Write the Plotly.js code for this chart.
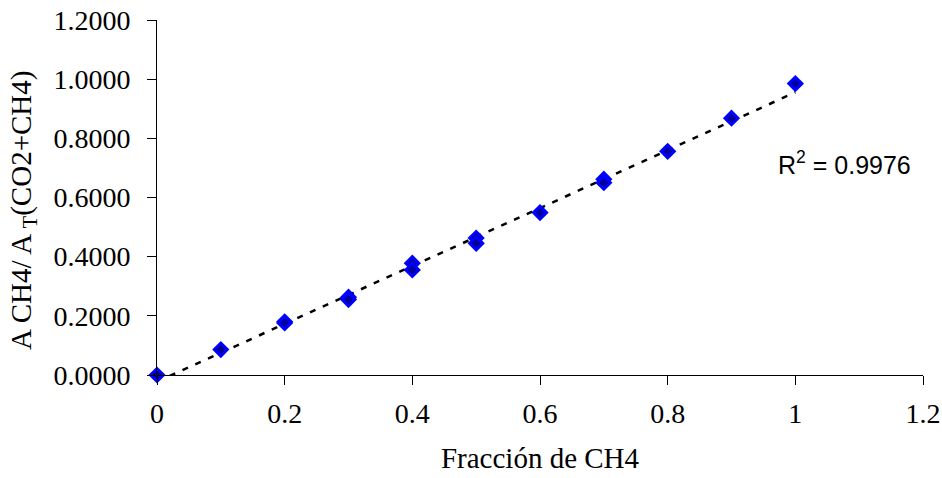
<!DOCTYPE html>
<html>
<head>
<meta charset="utf-8">
<script src="https://cdn.plot.ly/plotly-3.0.1.min.js"></script>
<style>html,body{margin:0;padding:0;background:#fff;}#chart{width:942px;height:478px;}</style>
</head>
<body>
<div id="chart"></div>
<script>
// Data
const fraccionCH4 = [0, 0.1, 0.2, 0.2, 0.3, 0.3, 0.4, 0.4, 0.5, 0.5, 0.6, 0.7, 0.7, 0.8, 0.9, 1.0];
const areaRatio   = [0, 0.086, 0.180, 0.176, 0.263, 0.255, 0.378, 0.355, 0.463, 0.445, 0.549, 0.662, 0.650, 0.756, 0.868, 0.985];
const r2Label = "R<sup>2</sup> = 0.9976";
const xTitle = "Fracción de CH4";
const yTitle = "A CH4/ A <sub>T</sub>(CO2+CH4)";

// Linear trendline computed from the data (least squares)
const n = fraccionCH4.length;
const mx = fraccionCH4.reduce((a, b) => a + b, 0) / n;
const my = areaRatio.reduce((a, b) => a + b, 0) / n;
let sxy = 0, sxx = 0;
for (let i = 0; i < n; i++) { sxy += (fraccionCH4[i] - mx) * (areaRatio[i] - my); sxx += (fraccionCH4[i] - mx) ** 2; }
const slope = sxy / sxx, intercept = my - slope * mx;
const xMin = Math.min(...fraccionCH4), xMax = Math.max(...fraccionCH4);
const trendX = [xMin, xMax];
const trendY = trendX.map(x => intercept + slope * x);

const serif = "'Liberation Serif', 'Times New Roman', serif";

const traces = [
  {
    x: trendX, y: trendY, type: 'scatter', mode: 'lines',
    line: {color: '#000000', width: 2.5, dash: '6px,8px'},
    hoverinfo: 'skip', showlegend: false
  },
  {
    x: fraccionCH4, y: areaRatio, type: 'scatter', mode: 'markers',
    marker: {symbol: 'diamond', size: 10, color: '#000099', line: {color: '#0000ff', width: 3}},
    showlegend: false, cliponaxis: false
  }
];

const layout = {
  width: 942, height: 478,
  margin: {l: 157, r: 19, t: 20, b: 103},
  paper_bgcolor: '#ffffff', plot_bgcolor: '#ffffff',
  font: {family: serif, color: '#000000'},
  showlegend: false,
  xaxis: {
    range: [0, 1.2], dtick: 0.2, tick0: 0,
    showline: true, linecolor: '#000000', linewidth: 1,
    ticks: 'outside', ticklen: 9, tickcolor: '#000000', tickwidth: 1,
    showgrid: false, zeroline: false,
    tickfont: {family: serif, size: 28, color: '#000000'},
    ticklabelstandoff: 4,
    title: {text: xTitle, font: {family: serif, size: 29, color: '#000000'}, standoff: 20}
  },
  yaxis: {
    range: [0, 1.2], dtick: 0.2, tick0: 0, tickformat: '.4f',
    showline: true, linecolor: '#000000', linewidth: 1,
    ticks: 'outside', ticklen: 9, tickcolor: '#000000', tickwidth: 1,
    showgrid: false, zeroline: false,
    tickfont: {family: serif, size: 28, color: '#000000'},
    ticklabelstandoff: 11
  },
  annotations: [
    {
      x: 0.969, y: 0.717, xref: 'x', yref: 'y', xanchor: 'left', yanchor: 'middle',
      text: r2Label, showarrow: false,
      font: {family: "'Liberation Sans', Arial, sans-serif", size: 25, color: '#000000'}
    },
    {
      x: -0.175, y: 0.465, xref: 'paper', yref: 'paper', xanchor: 'center', yanchor: 'middle',
      text: yTitle, textangle: -90, showarrow: false,
      font: {family: serif, size: 29, color: '#000000'}
    }
  ]
};

Plotly.newPlot('chart', traces, layout, {displayModeBar: false, staticPlot: true});
</script>
</body>
</html>
